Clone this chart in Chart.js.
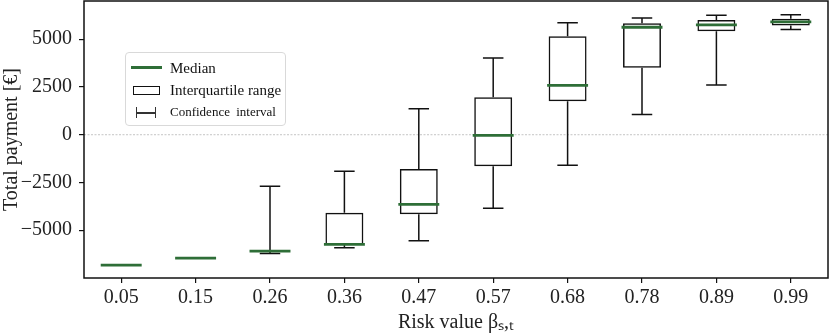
<!DOCTYPE html>
<html>
<head>
<meta charset="utf-8">
<title>Total payment vs risk value</title>
<script src="https://cdn.jsdelivr.net/npm/chart.js@4.4.0/dist/chart.umd.min.js"></script>
<style>
    body { margin: 0; background: #fff; }
    #wrap { position: relative; width: 830px; height: 335px; }
    #legend {
        position: absolute; left: 125px; top: 52px; width: 161px; height: 74px;
        border: 1px solid #d9d9d9; border-radius: 4px; background: rgba(255, 255, 255, 0.85);
        font-family: 'Liberation Serif', serif; color: #111; box-sizing: border-box;
    }
    .row { position: absolute; left: 0; height: 20px; line-height: 20px; }
    .row span.txt { position: absolute; left: 44px; white-space: nowrap; }
    .sym { position: absolute; box-sizing: border-box; }
</style>
</head>
<body>
<div id="wrap">
    <canvas id="chart" width="830" height="335"></canvas>
    <div id="legend">
        <div class="row" style="top:5px">
            <div class="sym" style="left:5px; top:8px; width:31px; height:3px; background:#2e6e37"></div>
            <span class="txt" style="font-size:15px">Median</span>
        </div>
        <div class="row" style="top:27px">
            <div class="sym" style="left:7px; top:6px; width:27px; height:9px; border:1.5px solid #111"></div>
            <span class="txt" style="font-size:15px">Interquartile range</span>
        </div>
        <div class="row" style="top:49px">
            <div class="sym" style="left:10px; top:5px; width:20px; height:11px; border-left:1.5px solid #333; border-right:1.5px solid #333"></div>
            <div class="sym" style="left:10px; top:10px; width:20px; height:1.5px; background:#333"></div>
            <span class="txt" style="font-size:13px; word-spacing:3px">Confidence interval</span>
        </div>
    </div>
</div>
<script>
// Categories and box statistics
const riskValues = ['0.05', '0.15', '0.26', '0.36', '0.47', '0.57', '0.68', '0.78', '0.89', '0.99'];
const whiskerLow  = [-6823, -6458, -6214, -5920, -5556, -3854, -1597, 1059, 2604, 5503];
const quartile1   = [-6823, -6458, -6120, -5745, -4167, -1650, 1753, 3507, 5417, 5712];
const medians     = [-6823, -6458, -6094, -5745, -3646, -35, 2587, 5625, 5747, 5903];
const quartile3   = [-6823, -6458, -6060, -4078, -1789, 1963, 5156, 5833, 6007, 6076];
const whiskerHigh = [-6823, -6458, -2692, -1911, 1354, 4010, 5868, 6111, 6250, 6285];
const yTicks = [-5000, -2500, 0, 2500, 5000];

const MEDIAN_COLOR = '#2e6e37';
const SERIF = "'Liberation Serif', serif";

/**
 * Draws whiskers, the zero line, medians and the frame around the plot
 */
const boxPlotPlugin = {
    id: 'boxplot',
    beforeDatasetsDraw(chart) {
        const ctx = chart.ctx;
        const x = chart.scales.x;
        const y = chart.scales.y;
        const area = chart.chartArea;
        const bars = chart.getDatasetMeta(0).data;

        // dashed zero line
        ctx.save();
        ctx.strokeStyle = '#b5b5b5';
        ctx.lineWidth = 0.8;
        ctx.setLineDash([2, 1.5]);
        ctx.beginPath();
        ctx.moveTo(area.left, y.getPixelForValue(0));
        ctx.lineTo(area.right, y.getPixelForValue(0));
        ctx.stroke();
        ctx.restore();

        // whiskers with caps
        ctx.save();
        ctx.strokeStyle = '#111';
        ctx.lineWidth = 1.5;
        riskValues.forEach((label, i) => {
            if (whiskerHigh[i] === whiskerLow[i]) return;
            const cx = x.getPixelForValue(i);
            const capHalf = bars[i].width * 0.27;
            const segs = [[quartile3[i], whiskerHigh[i]], [quartile1[i], whiskerLow[i]]];
            segs.forEach(([from, to]) => {
                const y0 = y.getPixelForValue(from);
                const y1 = y.getPixelForValue(to);
                ctx.beginPath();
                ctx.moveTo(cx, y0);
                ctx.lineTo(cx, y1);
                ctx.moveTo(cx - capHalf, y1);
                ctx.lineTo(cx + capHalf, y1);
                ctx.stroke();
            });
        });
        ctx.restore();
    },
    afterDatasetsDraw(chart) {
        const ctx = chart.ctx;
        const x = chart.scales.x;
        const y = chart.scales.y;
        const area = chart.chartArea;
        const bars = chart.getDatasetMeta(0).data;

        // medians
        ctx.save();
        ctx.strokeStyle = MEDIAN_COLOR;
        ctx.lineWidth = 2.8;
        riskValues.forEach((label, i) => {
            const cx = x.getPixelForValue(i);
            const half = bars[i].width / 2 + 1.5;
            const py = y.getPixelForValue(medians[i]);
            ctx.beginPath();
            ctx.moveTo(cx - half, py);
            ctx.lineTo(cx + half, py);
            ctx.stroke();
        });
        ctx.restore();

        // frame
        ctx.save();
        ctx.strokeStyle = '#111';
        ctx.lineWidth = 1.5;
        ctx.strokeRect(area.left, area.top, area.right - area.left, area.bottom - area.top);
        ctx.restore();
    }
};

const ctx = document.getElementById('chart').getContext('2d');
new Chart(ctx, {
    type: 'bar',
    data: {
        labels: riskValues,
        datasets: [{
            label: 'Interquartile range',
            data: quartile1.map((v, i) => [v, quartile3[i]]),
            backgroundColor: 'rgba(255, 255, 255, 0)',
            borderColor: '#111',
            borderWidth: 1.5,
            borderSkipped: false,
            categoryPercentage: 1.0,
            barPercentage: 0.51
        }]
    },
    options: {
        responsive: false,
        animation: false,
        devicePixelRatio: 1,
        layout: { padding: { top: 1, right: 2, left: 0, bottom: 0 } },
        plugins: {
            legend: { display: false },
            tooltip: { enabled: false }
        },
        scales: {
            x: {
                offset: true,
                border: { display: false },
                grid: {
                    display: true, offset: false, drawOnChartArea: false,
                    drawTicks: true, tickLength: 5, color: '#111', lineWidth: 1.2
                },
                ticks: { color: '#222', font: { family: SERIF, size: 20 }, padding: 3, maxRotation: 0 },
                title: {
                    display: true, text: 'Risk value βₛ,ₜ', color: '#222',
                    font: { family: SERIF, size: 20 }, padding: { top: 0, bottom: 0 }
                },
                afterFit: function(scale) {
                    scale.height = 57;
                    scale.paddingLeft = 0;
                    scale.paddingRight = 0;
                }
            },
            y: {
                min: -7500,
                max: 7000,
                border: { display: false },
                grid: {
                    display: true, drawOnChartArea: false,
                    drawTicks: true, tickLength: 5, color: '#111', lineWidth: 1.2
                },
                afterBuildTicks: function(axis) {
                    axis.ticks = yTicks.map(v => ({ value: v }));
                },
                ticks: {
                    color: '#222', font: { family: SERIF, size: 20 }, padding: 7,
                    callback: function(value) {
                        return value < 0 ? '\u2212' + Math.abs(value) : String(value);
                    }
                },
                title: {
                    display: true, text: 'Total payment [€]', color: '#222',
                    font: { family: SERIF, size: 20 }, padding: { top: 0, bottom: 0 }
                },
                afterFit: function(scale) {
                    scale.width = 84;
                    scale.paddingTop = 0;
                    scale.paddingBottom = 0;
                }
            }
        }
    },
    plugins: [boxPlotPlugin]
});
</script>
</body>
</html>
